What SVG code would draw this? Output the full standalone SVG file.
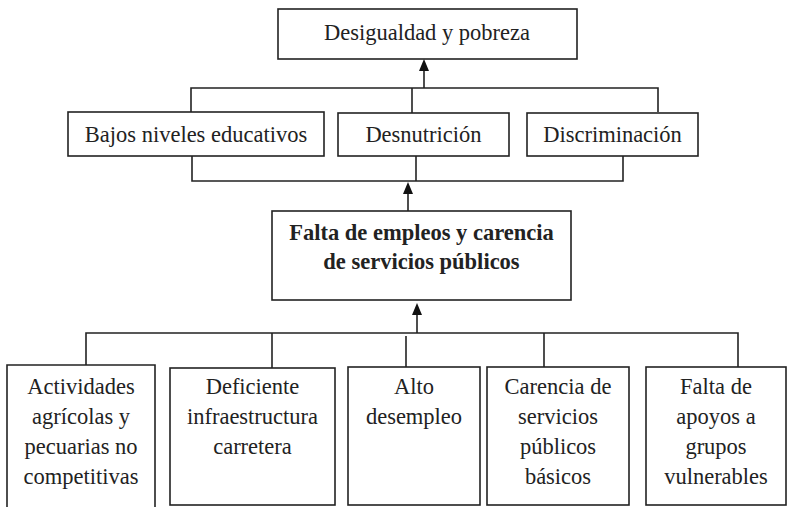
<svg xmlns="http://www.w3.org/2000/svg" width="790" height="507" viewBox="0 0 790 507">
<defs>
<style>
rect.box{fill:#fff;stroke:#222;stroke-width:1.6}
.c{fill:none;stroke:#222;stroke-width:1.6}
.ah{fill:#111;stroke:none}
text{font-family:"Liberation Serif","DejaVu Serif","Times New Roman",serif;font-size:22.5px;fill:#222;text-anchor:middle}
text.b{font-weight:bold}
</style>
<path id="arr" d="M-5,12 L0,0 L5,12 Z"/>
</defs>
<g id="connectors">
<line class="c" x1="424" y1="88" x2="424" y2="66"/>
<use href="#arr" class="ah" x="424" y="59"/>
<polyline class="c" points="191,112 191,88 658,88 658,112"/>
<line class="c" x1="412" y1="88" x2="412" y2="113"/>
<polyline class="c" points="192,156 192,181 623,181 623,156"/>
<line class="c" x1="416" y1="156" x2="416" y2="181"/>
<line class="c" x1="408" y1="211" x2="408" y2="190"/>
<use href="#arr" class="ah" x="408" y="182"/>
<line class="c" x1="417" y1="333" x2="417" y2="310"/>
<use href="#arr" class="ah" x="417" y="303"/>
<polyline class="c" points="86,365 86,333 738,333 738,367"/>
<line class="c" x1="272" y1="333" x2="272" y2="368"/>
<line class="c" x1="406" y1="336" x2="406" y2="367"/>
<line class="c" x1="544" y1="333" x2="544" y2="367"/>
</g>
<g id="n-desigualdad">
<rect class="box" x="278" y="9" width="299" height="50"/>
<text x="427" y="40">Desigualdad y pobreza</text>
</g>
<g id="n-bajos">
<rect class="box" x="68" y="112" width="256" height="44"/>
<text x="196" y="142">Bajos niveles educativos</text>
</g>
<g id="n-desnutricion">
<rect class="box" x="338" y="113" width="171" height="43"/>
<text x="423.5" y="142">Desnutrición</text>
</g>
<g id="n-discriminacion">
<rect class="box" x="527" y="113" width="171" height="43"/>
<text x="612.5" y="142">Discriminación</text>
</g>
<g id="n-falta">
<rect class="box" x="272" y="211" width="299" height="89"/>
<text class="b" x="421.5" y="240">Falta de empleos y carencia</text>
<text class="b" x="421.5" y="269">de servicios públicos</text>
</g>
<g id="n-actividades">
<path class="c" d="M7,508 L7,365 L155,365 L155,508" fill="#fff"/>
<text x="81" y="394">Actividades</text>
<text x="81" y="424">agrícolas y</text>
<text x="81" y="454">pecuarias no</text>
<text x="81" y="484">competitivas</text>
</g>
<g id="n-deficiente">
<rect class="box" x="170" y="368" width="165" height="137"/>
<text x="252.5" y="394">Deficiente</text>
<text x="252.5" y="424">infraestructura</text>
<text x="252.5" y="454">carretera</text>
</g>
<g id="n-alto">
<rect class="box" x="348" y="367" width="132" height="138"/>
<text x="414" y="394">Alto</text>
<text x="414" y="424">desempleo</text>
</g>
<g id="n-carencia">
<rect class="box" x="487" y="367" width="142" height="138"/>
<text x="558" y="394">Carencia de</text>
<text x="558" y="424">servicios</text>
<text x="558" y="454">públicos</text>
<text x="558" y="484">básicos</text>
</g>
<g id="n-apoyos">
<rect class="box" x="646" y="367" width="140" height="138"/>
<text x="716" y="394">Falta de</text>
<text x="716" y="424">apoyos a</text>
<text x="716" y="454">grupos</text>
<text x="716" y="484">vulnerables</text>
</g>
</svg>
